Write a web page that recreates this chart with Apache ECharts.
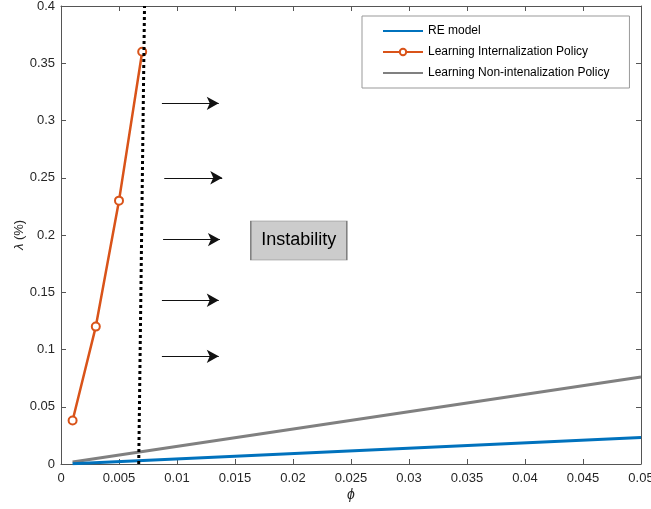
<!DOCTYPE html>
<html>
<head>
<meta charset="utf-8">
<script src="https://cdn.jsdelivr.net/npm/echarts@6/dist/echarts.min.js"></script>
<style>
  html, body { margin: 0; padding: 0; background: #fff; }
  #chart { width: 651px; height: 509px; }
</style>
</head>
<body>
<div id="chart"></div>
<script>
// values
var phiRE = [0.001, 0.05];
var reModel = [0.0003, 0.0232];
var phiLearn = [0.001, 0.003, 0.005, 0.007];
var learnInternal = [0.038, 0.12, 0.23, 0.36];
var phiNonInt = [0.001, 0.05];
var learnNonInternal = [0.0017, 0.076];
// stability boundary (dotted) and arrows into the unstable region
var boundaryX = [0.0067, 0.0072];
var boundaryY = [0, 0.4];
var arrowY = [0.315, 0.25, 0.196, 0.143, 0.094];
var arrowX0 = [0.0087, 0.0089, 0.0088, 0.0087, 0.0087];
var arrowX1 = [0.0136, 0.0139, 0.0137, 0.0136, 0.0136];
var boxPos = [0.0205, 0.1952];

var font = 'Liberation Sans, Arial, sans-serif';
var txt = '#262626';
var axisCol = '#555';

function pairs(xs, ys) {
    return xs.map(function (x, i) { return [x, ys[i]]; });
}

var arrows = arrowY.map(function (y, i) {
    return [{ coord: [arrowX0[i], y] }, { coord: [arrowX1[i], y] }];
});

var chart = echarts.init(document.getElementById('chart'));

var option = {
    animation: false,
    textStyle: { fontFamily: font },
    grid: { left: 61, top: 6, right: 10, bottom: 45, containLabel: false, outerBoundsMode: 'none' },
    legend: {
        data: [
            { name: 'RE model', itemStyle: { opacity: 0 } },
            { name: 'Learning Internalization Policy' },
            { name: 'Learning Non-intenalization Policy', itemStyle: { opacity: 0 } }
        ],
        orient: 'vertical',
        left: 362,
        top: 16,
        backgroundColor: '#fff',
        borderColor: '#999',
        borderWidth: 1,
        borderRadius: 0,
        padding: [9, 20, 9, 20],
        itemWidth: 40,
        itemHeight: 8,
        itemGap: 9,
        textStyle: { fontSize: 12, color: '#000', fontFamily: font }
    },
    xAxis: [{
        type: 'value',
        min: 0, max: 0.05, interval: 0.005,
        name: 'ϕ',
        nameLocation: 'middle',
        nameGap: 24,
        nameMoveOverlap: false,
        nameTextStyle: { fontSize: 14, fontStyle: 'italic', color: txt },
        axisLine: { lineStyle: { color: axisCol } },
        axisTick: { inside: true, length: 5, lineStyle: { color: axisCol } },
        axisLabel: {
            fontSize: 13, color: txt, margin: 8,
            formatter: function (v) { return String(+v.toFixed(3)); }
        },
        splitLine: { show: false }
    }, {
        type: 'value', position: 'top',
        min: 0, max: 0.05, interval: 0.005,
        axisLine: { show: true, onZero: false, lineStyle: { color: axisCol } },
        axisTick: { show: true, inside: true, length: 5, lineStyle: { color: axisCol } },
        axisLabel: { show: false },
        splitLine: { show: false }
    }],
    yAxis: [{
        type: 'value',
        min: 0, max: 0.4, interval: 0.05,
        name: '{i|λ} (%)',
        nameLocation: 'middle',
        nameGap: 35,
        nameMoveOverlap: false,
        nameTextStyle: {
            fontSize: 13, color: txt,
            rich: { i: { fontStyle: 'italic', fontSize: 13, color: txt } }
        },
        axisLine: { show: true, onZero: false, lineStyle: { color: axisCol } },
        axisTick: { show: true, inside: true, length: 5, lineStyle: { color: axisCol } },
        axisLabel: {
            fontSize: 13, color: txt, margin: 6,
            formatter: function (v) { return String(+v.toFixed(2)); }
        },
        splitLine: { show: false }
    }, {
        type: 'value', position: 'right',
        min: 0, max: 0.4, interval: 0.05,
        axisLine: { show: true, onZero: false, lineStyle: { color: axisCol } },
        axisTick: { show: true, inside: true, length: 5, lineStyle: { color: axisCol } },
        axisLabel: { show: false },
        splitLine: { show: false }
    }],
    series: [{
        name: 'RE model',
        type: 'line',
        data: pairs(phiRE, reModel),
        symbol: 'none',
        lineStyle: { color: '#0072BD', width: 3 },
        itemStyle: { color: '#0072BD' },
        z: 3
    }, {
        name: 'Learning Internalization Policy',
        type: 'line',
        data: pairs(phiLearn, learnInternal),
        symbol: 'circle',
        symbolSize: 8,
        lineStyle: { color: '#D95319', width: 2.5 },
        itemStyle: { color: '#fff', borderColor: '#D95319', borderWidth: 2 },
        z: 4
    }, {
        name: 'Learning Non-intenalization Policy',
        type: 'line',
        data: pairs(phiNonInt, learnNonInternal),
        symbol: 'none',
        lineStyle: { color: '#808080', width: 3 },
        itemStyle: { color: '#808080' },
        z: 2
    }, {
        name: 'boundary',
        type: 'line',
        data: pairs(boundaryX, boundaryY),
        symbol: 'none',
        lineStyle: { color: '#000', width: 3, type: [3, 3] },
        z: 5,
        silent: true,
        markLine: {
            silent: true,
            symbol: ['none', 'arrow'],
            symbolSize: [10, 12],
            label: { show: false },
            lineStyle: { color: '#111', width: 1, type: 'solid' },
            data: arrows
        },
        markPoint: {
            silent: true,
            symbol: 'rect',
            symbolSize: [96, 39],
            itemStyle: { color: '#cccccc', borderColor: '#808080', borderWidth: 1 },
            label: { show: true, formatter: 'Instability', fontSize: 18, color: '#000', fontFamily: font },
            data: [{ coord: boxPos }]
        }
    }]
};

chart.setOption(option);
</script>
</body>
</html>
